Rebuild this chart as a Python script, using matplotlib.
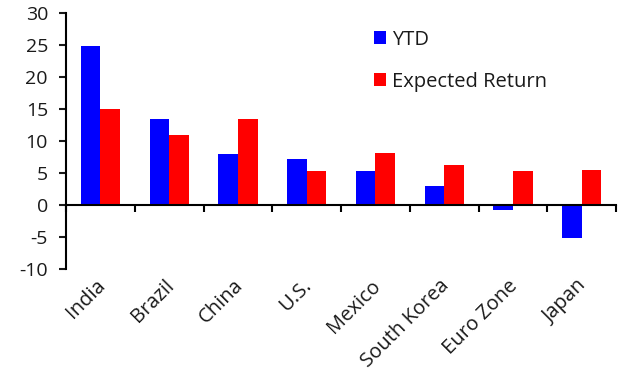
import numpy as np
from matplotlib import pyplot as plt
from matplotlib.transforms import ScaledTranslation

countries = ['India', 'Brazil', 'China', 'U.S.', 'Mexico', 'South Korea', 'Euro Zone', 'Japan']
ytd = [24.9, 13.5, 7.9, 7.2, 5.3, 2.9, -0.8, -5.2]
expected_return = [15.0, 10.9, 13.5, 5.3, 8.1, 6.3, 5.3, 5.4]
y_ticks = [-10, -5, 0, 5, 10, 15, 20, 25, 30]

plt.rcParams['font.family'] = ['Open Sans', 'DejaVu Sans']
plt.rcParams['font.size'] = 14
plt.rcParams['axes.unicode_minus'] = False

fig = plt.figure(figsize=(6.23, 3.71), dpi=100)
ax = fig.add_axes([0.106, 0.275, 0.883, 0.690])

x = np.arange(len(countries))
w = 0.285
ax.bar(x - w / 2, ytd, w, color='#0000ff', label='YTD')
ax.bar(x + w / 2, expected_return, w, color='#ff0000', label='Expected Return')

ax.set_xlim(-0.5, len(countries) - 0.5)
ax.set_ylim(-10, 30)
ax.set_yticks(y_ticks)
ax.tick_params(axis='y', direction='out', length=5, width=1.5, pad=8, colors='#1a1a1a')

# zero line with ticks at group boundaries
for s in ['top', 'right']:
    ax.spines[s].set_visible(False)
ax.spines['left'].set_linewidth(1.5)
ax.spines['bottom'].set_position(('data', 0))
ax.spines['bottom'].set_linewidth(1.5)
ax.set_xticks(np.arange(len(countries) + 1) - 0.5)
ax.set_xticklabels([])
ax.tick_params(axis='x', direction='out', length=5, width=1.5)

# category labels along the bottom
sec = ax.secondary_xaxis('bottom')
sec.spines['bottom'].set_visible(False)
sec.set_xticks(x)
sec.set_xticklabels(countries, rotation=45, ha='right', va='center',
                    rotation_mode='anchor', color='#1a1a1a', fontsize=14.5)
sec.tick_params(axis='x', length=0, pad=10)
shift = ScaledTranslation(2 / 100, 0, fig.dpi_scale_trans)
for lab in sec.get_xticklabels():
    lab.set_transform(lab.get_transform() + shift)

ax.legend(loc='upper left', bbox_to_anchor=(0.56, 0.935), frameon=False,
          fontsize=14.5, handlelength=0.6, handleheight=0.6, handletextpad=0.3,
          labelspacing=1.1, borderaxespad=0, borderpad=0, labelcolor='#1a1a1a')

fig.savefig('out.png', dpi=100)
